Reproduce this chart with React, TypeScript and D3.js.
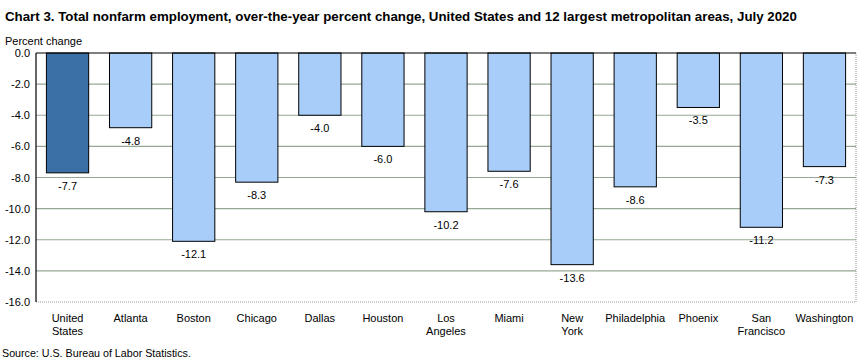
import React from 'react';
import * as d3 from 'd3';

const categories = ['United States', 'Atlanta', 'Boston', 'Chicago', 'Dallas', 'Houston', 'Los Angeles', 'Miami', 'New York', 'Philadelphia', 'Phoenix', 'San Francisco', 'Washington'];
const values = [-7.7, -4.8, -12.1, -8.3, -4.0, -6.0, -10.2, -7.6, -13.6, -8.6, -3.5, -11.2, -7.3];
const labelLines = [['United', 'States'], ['Atlanta'], ['Boston'], ['Chicago'], ['Dallas'], ['Houston'], ['Los', 'Angeles'], ['Miami'], ['New', 'York'], ['Philadelphia'], ['Phoenix'], ['San', 'Francisco'], ['Washington']];
const yTicks = [0, -2, -4, -6, -8, -10, -12, -14, -16];

const W = 867;
const H = 359;
const left = 36, right = 856, top = 53, bottom = 302;
const font = '"Liberation Sans", Arial, sans-serif';

export default function App() {
  const x = d3.scaleBand().domain(categories).range([left, right]).paddingInner(0.33).paddingOuter(0.165);
  const y = d3.scaleLinear().domain([-16, 0]).range([bottom, top]);

  return (
    <svg width={W} height={H} style={{ position: 'absolute', left: 0, top: 0, background: '#fff' }}>
      <text x={5} y={21} fontFamily={font} fontSize={13.3} fontWeight="bold" fill="#000">
        Chart 3. Total nonfarm employment, over-the-year percent change, United States and 12 largest metropolitan areas, July 2020
      </text>
      <text x={5} y={45} fontFamily={font} fontSize={11} fill="#000">Percent change</text>
      {yTicks.map(t => (
        <g key={t}>
          {t !== 0 && t !== -16 && (
            <line x1={left} x2={right} y1={y(t)} y2={y(t)} stroke="#94a894" strokeWidth={1.2} />
          )}
          <text x={30} y={y(t) + 4} textAnchor="end" fontFamily={font} fontSize={11} fill="#000">{t.toFixed(1)}</text>
        </g>
      ))}
      <line x1={left} x2={right} y1={bottom} y2={bottom} stroke="#999" strokeDasharray="1,1" />
      <line x1={right} x2={right} y1={top} y2={bottom} stroke="#999" strokeDasharray="1,1" />
      {categories.map((c, i) => {
        const v = values[i];
        const bx = x(c)!;
        return (
          <g key={c}>
            <rect x={bx} y={y(0)} width={x.bandwidth()} height={y(v) - y(0)}
              fill={i === 0 ? '#3a70a6' : '#a7cdf8'} stroke="#000" strokeWidth={1} />
            <text x={bx + x.bandwidth() / 2} y={y(v) + 17} textAnchor="middle" fontFamily={font} fontSize={11} fill="#000">
              {v.toFixed(1)}
            </text>
            {labelLines[i].map((l, j) => (
              <text key={j} x={bx + x.bandwidth() / 2} y={322 + j * 13} textAnchor="middle" fontFamily={font} fontSize={11} fill="#000">{l}</text>
            ))}
          </g>
        );
      })}
      <line x1={left} x2={right} y1={top} y2={top} stroke="#000" strokeWidth={1.2} />
      <line x1={left} x2={left} y1={top} y2={bottom} stroke="#000" strokeWidth={1.2} />
      <text x={2} y={357} fontFamily={font} fontSize={10.7} fill="#000">Source: U.S. Bureau of Labor Statistics.</text>
    </svg>
  );
}
